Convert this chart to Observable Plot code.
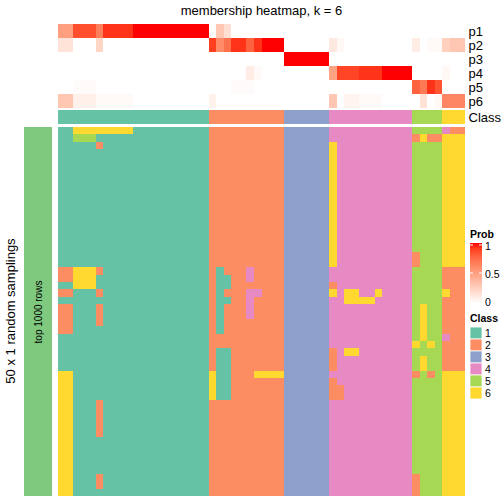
<!DOCTYPE html>
<html><head><meta charset="utf-8">
<script src="https://cdn.jsdelivr.net/npm/d3@7"></script>
<script src="https://cdn.jsdelivr.net/npm/@observablehq/plot@0.6"></script>
<style>
body{margin:0;background:#fff;font-family:"Liberation Sans",Arial,sans-serif;}
#chart{position:relative;width:504px;height:504px;overflow:hidden;background:#fff;}
#chart > *{position:absolute;}
</style></head><body><div id="chart"></div>
<script>
// ---- data ----
const titleText = "membership heatmap, k = 6";
const classNames = ["1","2","3","4","5","6"];
const classColors = ["#66C2A5","#FC8D62","#8DA0CB","#E78AC3","#A6D854","#FFD92F"];
const probNames = ["p1","p2","p3","p4","p5","p6"];
const probTicks = [0, 0.5, 1];
// membership probabilities, one value per column (54 columns)
const p1 = [0.5,0.5, 0.85,0.85,0.85, 0.65, 0.93,0.93,0.93,0.93, 1,1,1,1,1,1,1,1,1,1,
            0,0.3,0.17,0,0,0,0,0,0,0, 0,0,0,0,0,0, 0,0,0,0,0,0,0,0,0,0,0, 0,0,0,0, 0,0,0];
const p2 = [0.15,0.15, 0,0,0, 0.22, 0,0,0,0, 0,0,0,0,0,0,0,0,0,0,
            0.9,0.6,0.72,0.93,0.93,0.78,0.93,1,1,1, 0,0,0,0,0,0, 0.12,0.04,0,0,0,0,0,0,0,0,0, 0.1,0,0.03,0.03, 0.25,0.3,0.3];
const p3 = [0,0, 0,0,0, 0, 0,0,0,0, 0,0,0,0,0,0,0,0,0,0,
            0,0,0,0,0,0,0,0,0,0, 1,1,1,1,1,1, 0,0,0,0,0,0,0,0,0,0,0, 0,0,0,0, 0,0,0];
const p4 = [0,0, 0,0,0, 0, 0,0,0,0, 0,0,0,0,0,0,0,0,0,0,
            0,0,0,0,0,0.1,0.03,0,0,0, 0,0,0,0,0,0, 0.48,0.88,0.88,0.88,0.93,0.93,0.93,1,1,1,1, 0,0,0,0, 0.04,0,0];
const p5 = [0,0, 0.02,0.02,0.02, 0, 0,0,0,0, 0,0,0,0,0,0,0,0,0,0,
            0,0,0,0.02,0.02,0.02,0,0,0,0, 0,0,0,0,0,0, 0,0,0,0,0,0,0,0,0,0,0, 0.78,0.68,0.93,0.83, 0,0,0];
const p6 = [0.3,0.3, 0.08,0.08,0.08, 0.03, 0.03,0.03,0.03,0.03, 0,0,0,0,0,0,0,0,0,0,
            0.07,0,0,0,0,0,0,0,0,0, 0,0,0,0,0,0, 0.3,0,0.06,0.06,0.03,0.03,0.03,0,0,0,0, 0,0.16,0,0.04, 0.62,0.62,0.62];
// consensus class of each column
const columnClass = "11111111111111111111 2222222222 333333 44444444444 5555 666";
// class assigned in each of the 50 random samplings (rows), per column
const samplingRows = [
"11666666661111111111 2222222222 333333 44444444444 5555 422",
"11555111111111111111 2222222222 333333 44444444444 2622 666",
"11111211111111111111 2222222222 333333 64444444444 5555 666",
"11111111111111111111 2222222222 333333 64444444444 5555 666",
"11111111111111111111 2222222222 333333 64444444444 5555 666",
"11111111111111111111 2222222222 333333 64444444444 5555 666",
"11111111111111111111 2222222222 333333 64444444444 5555 666",
"11111111111111111111 2222222222 333333 64444444444 5555 666",
"11111111111111111111 2222222222 333333 64444444444 5555 666",
"11111111111111111111 2222222222 333333 64444444444 5555 666",
"11111111111111111111 2222222222 333333 64444444444 5555 666",
"11111111111111111111 2222222222 333333 64444444444 5555 666",
"11111111111111111111 2222222222 333333 64444444444 5555 666",
"11111111111111111111 2222222222 333333 64444444444 5555 666",
"11111111111111111111 2222222222 333333 64444444444 5555 666",
"11111111111111111111 2222222222 333333 64444444444 5555 666",
"11111111111111111111 2222222222 333333 64444444444 5555 666",
"11111111111111111111 2222222222 333333 64444444444 2555 666",
"11111111111111111111 2222222222 333333 64444444444 2555 666",
"22666211111111111111 2122242222 333333 44444444444 5555 222",
"22666111111111111111 2112242222 333333 44444444444 5555 222",
"11666111111111111111 2112222222 333333 24444444444 5555 222",
"22111211111111111111 2122244222 333333 64664464444 5555 622",
"11111111111111111111 2112242222 333333 44666644444 5555 222",
"22111211111111111111 2122242222 333333 44444444444 5655 222",
"22111211111111111111 2122242222 333333 44444444444 5655 222",
"22111211111111111111 2122222222 333333 44444444444 5655 222",
"22111111111111111111 2122222222 333333 44444444444 5655 222",
"11111111111111111111 2222222222 333333 44444444444 5655 422",
"11111111111111111111 2222222222 333333 44444444444 6565 222",
"11111111111111111111 2112222222 333333 24664444444 5555 222",
"11111111111111111111 2112222222 333333 24444444444 5655 222",
"11111111111111111111 2112222222 333333 24444444444 5655 222",
"66111111111111111111 6112226666 333333 44444444444 2525 666",
"66111111111111111111 6112222222 333333 24444444444 5555 666",
"66111111111111111111 6112222222 333333 22444444444 5555 666",
"66111111111111111111 6112222222 333333 22444444444 5555 666",
"66111211111111111111 2222222222 333333 44444444444 5555 666",
"66111211111111111111 2222222222 333333 44444444444 5555 666",
"66111211111111111111 2222222222 333333 44444444444 5555 666",
"66111211111111111111 2222222222 333333 44444444444 5555 666",
"66111211111111111111 2222222222 333333 44444444444 5555 666",
"66111111111111111111 2222222222 333333 44444444444 5555 666",
"66111111111111111111 2222222222 333333 44444444444 5555 666",
"66111111111111111111 2222222222 333333 44444444444 5555 666",
"66111111111111111111 2222222222 333333 44444444444 5555 666",
"66111111111111111111 2222222222 333333 44444444444 5555 666",
"66111211111111111111 2222222222 333333 44444444444 2555 666",
"66111211111111111111 2222222222 333333 44444444444 2555 666",
"66111111111111111111 2222222222 333333 44444444444 2555 666"
];
const leftTitle = "50 x 1 random samplings";
const barLabel = "top 1000 rows";

// ---- build ----
const FONT = '"Liberation Sans", Arial, sans-serif';
const chart = document.getElementById("chart");
const nCols = p1.length;
const columns = d3.range(nCols);
const place = (el, left, top) => { el.style.left = left + "px"; el.style.top = top + "px"; chart.appendChild(el); return el; };

const xBand = {type: "band", domain: columns, padding: 0, round: false, axis: null};
const common = {width: 504, marginLeft: 58, marginRight: 39, marginTop: 0, marginBottom: 0,
  style: {fontFamily: FONT, fontSize: "13px", overflow: "visible", background: "transparent"}};

// title
const t = document.createElement("div");
t.textContent = titleText;
Object.assign(t.style, {width: "407px", textAlign: "center", fontSize: "13px", lineHeight: "16px", fontFamily: FONT, color: "#000"});
place(t, 58, 3);

// probability annotation
const probSeries = [p1, p2, p3, p4, p5, p6];
const probCells = probSeries.flatMap((vals, i) => vals.map((v, j) => ({col: j, row: probNames[i], value: v})));
place(Plot.plot({...common, height: 84,
  x: xBand,
  y: {type: "band", domain: probNames, padding: 0, round: false},
  color: {type: "linear", domain: [0, 1], range: ["white", "red"], interpolate: d3.interpolateLab},
  marks: [
    Plot.cell(probCells, {x: "col", y: "row", fill: "value", inset: 0, shapeRendering: "crispEdges"}),
    Plot.axisY({anchor: "right", tickSize: 0, tickPadding: 3, label: null, fontSize: 13})
  ]}), 0, 24);

// class annotation
const colCls = columnClass.replace(/ /g, "").split("");
const classCells = colCls.map((c, j) => ({col: j, row: "Class", cls: c}));
place(Plot.plot({...common, height: 14,
  x: xBand,
  y: {type: "band", domain: ["Class"], padding: 0, round: false},
  color: {type: "ordinal", domain: classNames, range: classColors},
  marks: [
    Plot.cell(classCells, {x: "col", y: "row", fill: "cls", inset: 0, shapeRendering: "crispEdges"}),
    Plot.axisY({anchor: "right", tickSize: 0, tickPadding: 3, label: null, fontSize: 13})
  ]}), 0, 110);

// main heatmap
const mainCells = samplingRows.flatMap((s, r) => s.replace(/ /g, "").split("").map((c, j) => ({col: j, row: r, cls: c})));
place(Plot.plot({...common, height: 369,
  x: xBand,
  y: {type: "band", domain: d3.range(samplingRows.length), padding: 0, round: false, axis: null},
  color: {type: "ordinal", domain: classNames, range: classColors},
  marks: [
    Plot.cell(mainCells, {x: "col", y: "row", fill: "cls", inset: 0, shapeRendering: "crispEdges"})
  ]}), 0, 127);

// left bar and titles
const bar = document.createElement("div");
Object.assign(bar.style, {width: "28px", height: "369px", background: "#7FC97F"});
const bl = document.createElement("div");
bl.textContent = barLabel;
Object.assign(bl.style, {position: "absolute", left: "14px", top: "184.5px", transform: "translate(-50%,-50%) rotate(-90deg)",
  whiteSpace: "nowrap", fontSize: "10px", fontFamily: FONT, color: "#000"});
bar.appendChild(bl);
place(bar, 24, 127);

const lt = document.createElement("div");
lt.textContent = leftTitle;
Object.assign(lt.style, {transform: "translate(-50%,-50%) rotate(-90deg)", whiteSpace: "nowrap", fontSize: "13px", fontFamily: FONT, color: "#000"});
place(lt, 10, 311);

// legends
const lg = d3.create("svg").attr("width", 42).attr("height", 185).style("font-family", FONT).style("overflow", "visible");
const ox = 462, oy = 220;
lg.append("text").attr("x", 470 - ox).attr("y", 238 - oy).attr("font-size", 10.5).attr("font-weight", "bold").text("Prob");
const grad = lg.append("defs").append("linearGradient").attr("id", "pg").attr("x1", 0).attr("x2", 0).attr("y1", 0).attr("y2", 1);
d3.range(0, 1.0001, 0.1).forEach(s => grad.append("stop").attr("offset", s).attr("stop-color", d3.interpolateLab("red", "white")(s)));
const gTop = 243, gBot = 303;
lg.append("rect").attr("x", 470 - ox).attr("y", gTop - oy).attr("width", 12).attr("height", gBot - gTop).attr("fill", "url(#pg)");
const py = d3.scaleLinear().domain([0, 1]).range([301 - oy, 245 - oy]);
probTicks.forEach(v => {
  if (v > 0) {
    lg.append("line").attr("x1", 470 - ox).attr("x2", 473 - ox).attr("y1", py(v)).attr("y2", py(v)).attr("stroke", "white").attr("stroke-width", 1);
    lg.append("line").attr("x1", 479 - ox).attr("x2", 482 - ox).attr("y1", py(v)).attr("y2", py(v)).attr("stroke", "white").attr("stroke-width", 1);
  }
  lg.append("text").attr("x", 485 - ox).attr("y", py(v) + 1.5).attr("dy", "0.35em").attr("font-size", 10.5).text(String(v));
});
lg.append("text").attr("x", 470 - ox).attr("y", 322 - oy).attr("font-size", 10.5).attr("font-weight", "bold").text("Class");
classNames.forEach((c, i) => {
  const y0 = 327 + i * 12 - oy;
  lg.append("rect").attr("x", 470 - ox).attr("y", y0).attr("width", 12).attr("height", 12).attr("fill", classColors[i]).attr("stroke", "white").attr("stroke-width", 0.8);
  lg.append("text").attr("x", 485 - ox).attr("y", y0 + 6).attr("dy", "0.35em").attr("font-size", 10.5).text(c);
});
place(lg.node(), ox, oy);
</script></body></html>
